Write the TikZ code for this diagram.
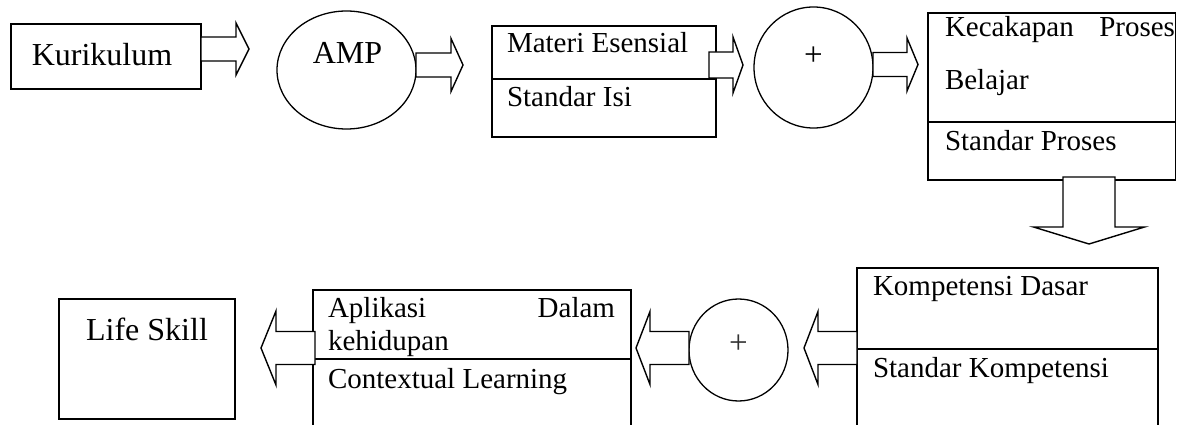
\documentclass[tikz,border=0pt]{standalone}
\usepackage{fontspec}
\setmainfont{Liberation Serif}
\usetikzlibrary{calc,shapes.geometric}
\tikzset{
  boxnode/.style={draw, line width=1.8pt, rectangle, inner sep=0pt, outer sep=0pt},
  ellnode/.style={draw, line width=1.3pt, ellipse, inner sep=0pt, outer sep=0pt},
  lbl/.style={inner sep=0pt, outer sep=0pt, font=\fontsize{29}{34}\selectfont, anchor=base west},
  biglbl/.style={inner sep=0pt, outer sep=0pt, font=\fontsize{32}{38}\selectfont, anchor=base},
  pluslbl/.style={inner sep=0pt, outer sep=0pt, font=\fontsize{33}{38}\selectfont, anchor=base},
  barrow/.style={draw, fill=white, line width=1.4pt, line join=miter},
  divider/.style={line width=1.8pt},
}
% horizontal block arrow: start, tip, body half-width, head half-width, head length (signed)
\newcommand\hblockarrow[5]{\draw[barrow] let \p1=(#1), \p2=(#2) in
  ({\x1},{\y2+#3}) -- ({\x2-(#5)},{\y2+#3}) -- ({\x2-(#5)},{\y2+#4}) -- (\p2) --
  ({\x2-(#5)},{\y2-(#4)}) -- ({\x2-(#5)},{\y2-(#3)}) -- ({\x1},{\y2-(#3)}) -- cycle;}
% vertical (downward) block arrow
\newcommand\vblockarrow[5]{\draw[barrow] let \p1=(#1), \p2=(#2) in
  ({\x2+#3},{\y1}) -- ({\x2+#3},{\y2+(#5)}) -- ({\x2+#4},{\y2+(#5)}) -- (\p2) --
  ({\x2-(#4)},{\y2+(#5)}) -- ({\x2-(#3)},{\y2+(#5)}) -- ({\x2-(#3)},{\y1}) -- cycle;}
\begin{document}
\begin{tikzpicture}[x=1pt,y=-1pt]
\clip (0,0) rectangle (1177,425);
\fill[white] (0,0) rectangle (1177,425);

% ---- top row ----
\node[boxnode, minimum width=190pt, minimum height=65pt] (kur) at (106,56.5) {};
\node[ellnode, minimum width=139pt, minimum height=118pt] (amp) at (346.5,70) {};
\node[boxnode, minimum width=224pt, minimum height=111pt] (mat) at (604,81.5) {};
\coordinate (dv1) at (0,79);
\draw[divider] (mat.west |- dv1) -- (mat.east |- dv1);
\node[ellnode, minimum width=119pt, minimum height=121pt] (plusA) at (813.5,67.5) {};
\node[boxnode, minimum width=247.5pt, minimum height=167pt] (kec) at (1051.75,96.5) {};
\coordinate (dv2) at (0,122);
\draw[divider] (kec.west |- dv2) -- (kec.east |- dv2);

% ---- bottom row ----
\node[boxnode, minimum width=301pt, minimum height=172pt] (komp) at (1007.5,354) {};
\coordinate (dv3) at (0,349);
\draw[divider] (komp.west |- dv3) -- (komp.east |- dv3);
\node[ellnode, minimum width=99pt, minimum height=102pt] (plusB) at (738.5,350) {};
\node[boxnode, minimum width=318pt, minimum height=150pt] (apl) at (472,365) {};
\coordinate (dv4) at (0,359);
\draw[divider] (apl.west |- dv4) -- (apl.east |- dv4);
\node[boxnode, minimum width=176pt, minimum height=120pt] (life) at (147,359) {};

% ---- block arrows ----
\coordinate (t1) at (249,49);
\hblockarrow{kur.east |- t1}{t1}{12pt}{26pt}{13pt}
\coordinate (t2) at (463,65);
\hblockarrow{amp.east |- t2}{t2}{12pt}{26.5pt}{12pt}
\coordinate (t3) at (743,65);
\coordinate (s3) at ($(mat.east |- t3)+(-7,0)$);
\hblockarrow{s3}{t3}{13pt}{28pt}{10pt}
\coordinate (t4) at (918,64.5);
\hblockarrow{plusA.east |- t4}{t4}{12pt}{26.5pt}{11pt}
\coordinate (t5) at (1089,244);
\coordinate (s5) at ($(t5 |- kec.south)+(0,-3)$);
\vblockarrow{s5}{t5}{26pt}{55.5pt}{17pt}
\coordinate (t6) at (804,348);
\hblockarrow{komp.west |- t6}{t6}{16.5pt}{36.5pt}{-14pt}
\coordinate (t7) at (636,348);
\hblockarrow{plusB.west |- t7}{t7}{16.5pt}{36.5pt}{-14pt}
\coordinate (t8) at (261,348);
\coordinate (s8) at ($(apl.west |- t8)+(2,0)$);
\hblockarrow{s8}{t8}{16.5pt}{37pt}{-15pt}

% ---- texts ----
\node[biglbl] (kurT) at (102,66) {Kurikulum};
\node[biglbl] (ampT) at (347.5,64) {AMP};
\node[lbl] (matT1) at (507,53) {Materi Esensial};
\node[lbl] (matT2) at (507,107) {Standar Isi};
\node[pluslbl] (plusAT) at (813.5,66) {+};
\node[lbl] (kecT1) at (945,37) {\hbox to 230pt{Kecakapan\hfill Proses}};
\node[lbl] (kecT2) at (945,90) {Belajar};
\node[lbl] (kecT3) at (945,150) {Standar Proses};
\node[lbl] (kompT1) at (873,295) {Kompetensi Dasar};
\node[lbl] (kompT2) at (873,377) {Standar Kompetensi};
\node[pluslbl, text=black!80] (plusBT) at (738.5,353.4) {+};
\node[lbl] (aplT1) at (328,317) {\hbox to 287pt{Aplikasi\hfill Dalam}};
\node[lbl] (aplT2) at (328,350) {kehidupan};
\node[lbl] (aplT3) at (328,388) {Contextual Learning};
\node[biglbl] (lifeT) at (147,340) {Life Skill};
\end{tikzpicture}
\end{document}
